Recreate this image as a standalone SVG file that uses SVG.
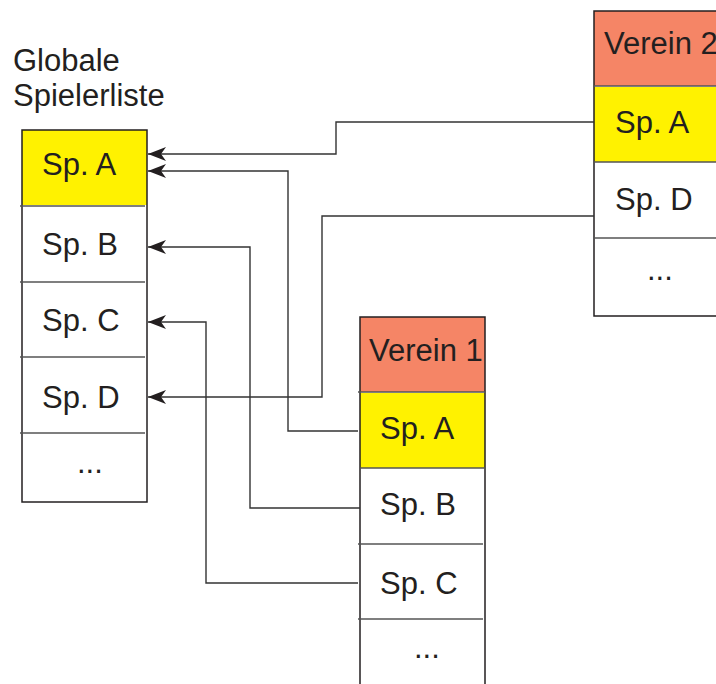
<svg xmlns="http://www.w3.org/2000/svg" width="716" height="684" viewBox="0 0 716 684">
<style>
text{font-family:"Liberation Sans",Arial,sans-serif;font-size:31px;fill:#231f20}
.box{fill:none;stroke:#231f20;stroke-width:1.5}
.div{stroke:#555;stroke-width:1.5}
.hdr{fill:#f58566}
.yel{fill:#fff200}
.con{fill:none;stroke:#333;stroke-width:1.4}
</style>
<defs>
<marker id="ah" viewBox="0 0 18 14" refX="18" refY="7" markerWidth="18" markerHeight="14" markerUnits="userSpaceOnUse" orient="auto">
<path d="M18,7 L0,0 L5,7 L0,14 Z" fill="#231f20"/>
</marker>
</defs>
<rect width="716" height="684" fill="#fff"/>
<g id="title">
<text x="13" y="71">Globale</text>
<text x="13" y="106">Spielerliste</text>
</g>
<g id="global">
<rect class="yel" x="22" y="130" width="125" height="75"/>
<rect class="box" x="22" y="130" width="125" height="372"/>
<line class="div" x1="20" y1="206" x2="145" y2="206"/>
<line class="div" x1="20" y1="282" x2="145" y2="282"/>
<line class="div" x1="20" y1="357" x2="145" y2="357"/>
<line class="div" x1="20" y1="433" x2="145" y2="433"/>
<text x="42" y="175">Sp. A</text>
<text x="42" y="255">Sp. B</text>
<text x="42" y="331">Sp. C</text>
<text x="42" y="408">Sp. D</text>
<text x="77" y="473">...</text>
</g>
<g id="verein1">
<rect class="hdr" x="360" y="317" width="125" height="75"/>
<rect class="yel" x="360" y="393" width="125" height="75"/>
<path class="box" d="M360,690 V317 H485 V690"/>
<line class="div" x1="358" y1="392" x2="485" y2="392"/>
<line class="div" x1="360" y1="468" x2="485" y2="468"/>
<line class="div" x1="358" y1="544" x2="483" y2="544"/>
<line class="div" x1="358" y1="619" x2="483" y2="619"/>
<text x="369" y="361">Verein 1</text>
<text x="380" y="439">Sp. A</text>
<text x="380" y="515">Sp. B</text>
<text x="380" y="594">Sp. C</text>
<text x="414" y="658">...</text>
</g>
<g id="verein2">
<rect class="hdr" x="594" y="11" width="130" height="75"/>
<rect class="yel" x="594" y="87" width="130" height="75"/>
<path class="box" d="M720,316 H594 V11 H720"/>
<line class="div" x1="594" y1="86" x2="720" y2="86"/>
<line class="div" x1="594" y1="162" x2="720" y2="162"/>
<line class="div" x1="594" y1="238" x2="720" y2="238"/>
<text x="604" y="54">Verein 2</text>
<text x="615" y="133">Sp. A</text>
<text x="615" y="210">Sp. D</text>
<text x="647" y="280">...</text>
</g>
<g id="connectors">
<path class="con" d="M594,122 H336 V154 H148" marker-end="url(#ah)"/>
<path class="con" d="M358,431 H288 V171 H148" marker-end="url(#ah)"/>
<path class="con" d="M360,508 H250 V247 H148" marker-end="url(#ah)"/>
<path class="con" d="M358,583 H206 V322 H148" marker-end="url(#ah)"/>
<path class="con" d="M594,216 H322 V397 H148" marker-end="url(#ah)"/>
</g>
</svg>
